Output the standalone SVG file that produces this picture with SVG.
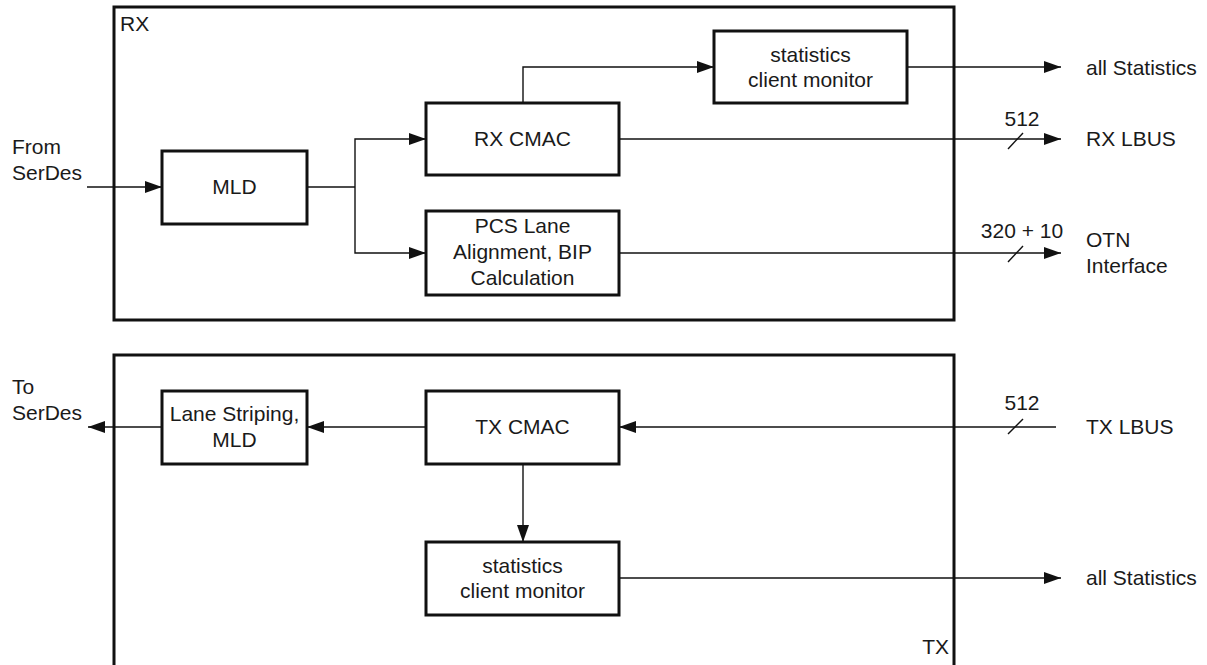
<svg xmlns="http://www.w3.org/2000/svg" width="1207" height="665" viewBox="0 0 1207 665">
<style>
text{font-family:"Liberation Sans",Arial,sans-serif;font-size:21px;fill:#1a1a1a}
.c{text-anchor:middle}
.r{text-anchor:end}
.box{fill:#fff;stroke:#111;stroke-width:3}
.frame{fill:none;stroke:#111;stroke-width:3}
.ln{fill:none;stroke:#111;stroke-width:1.4}
.arr{marker-end:url(#ah)}
</style>
<defs>
<marker id="ah" markerUnits="userSpaceOnUse" markerWidth="18" markerHeight="12" refX="17" refY="6" orient="auto">
<path d="M0,0 L17,6 L0,12 Z" fill="#111"/>
</marker>
</defs>
<g id="rx-frame"><rect class="frame" x="114" y="7" width="840" height="313"/><text x="120" y="31">RX</text></g>
<g id="tx-frame"><rect class="frame" x="114" y="355" width="840" height="330"/><text class="r" x="949" y="654">TX</text></g>
<g id="connectors">
<path class="ln arr" d="M87,187 H162"/>
<path class="ln" d="M307,187 H355"/>
<path class="ln arr" d="M355,187 V139 H426"/>
<path class="ln arr" d="M355,187 V253 H426"/>
<path class="ln arr" d="M523,103 V67 H714"/>
<path class="ln arr" d="M907,67 H1061"/>
<path class="ln arr" d="M619,139 H1061"/>
<path class="ln" d="M1008,149 L1023,133"/>
<path class="ln arr" d="M619,253 H1061"/>
<path class="ln" d="M1008,262 L1023,246"/>
<path class="ln arr" d="M1056,427 H619"/>
<path class="ln" d="M1008,434 L1023,419"/>
<path class="ln arr" d="M426,427 H307"/>
<path class="ln arr" d="M162,427 H88"/>
<path class="ln arr" d="M523,464 V542"/>
<path class="ln arr" d="M619,578 H1061"/>
</g>
<g id="mld"><rect class="box" x="162" y="151" width="145" height="73"/><text class="c" x="234.5" y="194">MLD</text></g>
<g id="rx-cmac"><rect class="box" x="426" y="103" width="193" height="72"/><text class="c" x="522.5" y="146">RX CMAC</text></g>
<g id="pcs"><rect class="box" x="426" y="211" width="193" height="84"/><text class="c" x="522.5" y="233">PCS Lane</text><text class="c" x="522.5" y="259">Alignment, BIP</text><text class="c" x="522.5" y="285">Calculation</text></g>
<g id="rx-stats"><rect class="box" x="714" y="31" width="193" height="72"/><text class="c" x="810.5" y="62">statistics</text><text class="c" x="810.5" y="87">client monitor</text></g>
<g id="lane-striping"><rect class="box" x="162" y="391" width="145" height="73"/><text class="c" x="234.5" y="421">Lane Striping,</text><text class="c" x="234.5" y="447">MLD</text></g>
<g id="tx-cmac"><rect class="box" x="426" y="391" width="193" height="73"/><text class="c" x="522.5" y="434">TX CMAC</text></g>
<g id="tx-stats"><rect class="box" x="426" y="542" width="193" height="73"/><text class="c" x="522.5" y="573">statistics</text><text class="c" x="522.5" y="598">client monitor</text></g>
<g id="labels">
<text x="12" y="154">From</text><text x="12" y="180">SerDes</text>
<text x="12" y="394">To</text><text x="12" y="420">SerDes</text>
<text x="1086" y="75">all Statistics</text>
<text class="c" x="1022" y="126">512</text>
<text x="1086" y="146">RX LBUS</text>
<text class="c" x="1022" y="238">320 + 10</text>
<text x="1086" y="247">OTN</text><text x="1086" y="273">Interface</text>
<text class="c" x="1022" y="410">512</text>
<text x="1086" y="434">TX LBUS</text>
<text x="1086" y="585">all Statistics</text>
</g>
</svg>
